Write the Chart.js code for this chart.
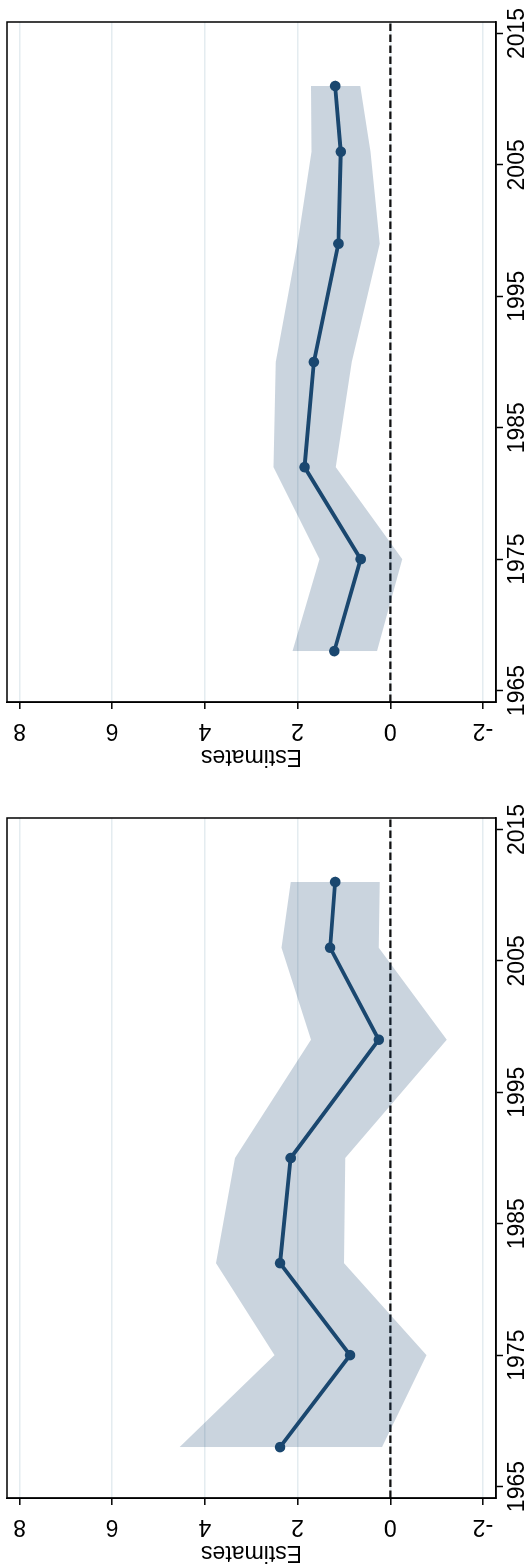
<!DOCTYPE html>
<html>
<head>
<meta charset="utf-8">
<script src="https://cdn.jsdelivr.net/npm/chart.js@4.4.0/dist/chart.umd.min.js"></script>
<style>
  html, body { margin: 0; padding: 0; background: #fff; overflow: hidden; }
  body { width: 532px; height: 1564px; position: relative; }
  /* the figure is laid out landscape and turned a quarter turn to the left */
  #sheet { position: absolute; left: 0; top: 0; width: 1564px; height: 532px;
           transform-origin: 0 0; transform: translate(0, 1564px) rotate(-90deg); }
  #sheet canvas { position: absolute; top: 0; }
  #left { left: 0; }
  #right { left: 796px; }
</style>
</head>
<body>
<div id="sheet">
  <canvas id="left" width="768" height="532"></canvas>
  <canvas id="right" width="768" height="532"></canvas>
</div>
<script>
const years = [1968, 1975, 1982, 1990, 1999, 2006, 2011];
const yearTicks = [1965, 1975, 1985, 1995, 2005, 2015];
const estimateTicks = [-2, 0, 2, 4, 6, 8];

// left panel
const leftEst   = [2.38, 0.87, 2.38, 2.15, 0.25, 1.30, 1.19];
const leftUpper = [4.55, 2.50, 3.76, 3.35, 1.71, 2.35, 2.15];
const leftLower = [0.18, -0.78, 1.00, 0.97, -1.22, 0.25, 0.23];

// right panel
const rightEst   = [1.21, 0.64, 1.85, 1.65, 1.12, 1.07, 1.19];
const rightUpper = [2.11, 1.53, 2.52, 2.47, 2.00, 1.70, 1.71];
const rightLower = [0.29, -0.26, 1.18, 0.83, 0.23, 0.43, 0.65];

const refLine = 0;
const yearMin = 1964.13, yearMax = 2015.87;
const estMin = -2.28, estMax = 8.27;

const navy = '#1a476f';
const bandColor = 'rgba(26, 71, 111, 0.23)';

Chart.defaults.font.family = "'Liberation Sans', Arial, Helvetica, sans-serif";
Chart.defaults.color = '#000';

const points = vals => years.map((yr, i) => ({ x: yr, y: vals[i] }));

// box round the plot region
const plotFrame = {
    id: 'plotFrame',
    afterDraw(chart) {
        const { ctx, chartArea: a } = chart;
        ctx.save();
        ctx.strokeStyle = '#000';
        ctx.lineWidth = 1.5;
        ctx.strokeRect(a.left, a.top, a.right - a.left, a.bottom - a.top);
        ctx.restore();
    }
};

function makeChart(id, est, upper, lower) {
    return new Chart(document.getElementById(id), {
        type: 'line',
        data: {
            datasets: [
                {
                    data: points(est),
                    borderColor: navy,
                    borderWidth: 3.8,
                    pointRadius: 5.3,
                    pointBackgroundColor: navy,
                    pointBorderWidth: 0,
                    fill: false
                },
                {
                    data: points(upper),
                    borderColor: 'rgba(0,0,0,0)',
                    borderWidth: 0,
                    pointRadius: 0,
                    backgroundColor: bandColor,
                    fill: '+1'
                },
                {
                    data: points(lower),
                    borderColor: 'rgba(0,0,0,0)',
                    borderWidth: 0,
                    pointRadius: 0,
                    fill: false
                },
                {
                    data: [{ x: yearMin, y: refLine }, { x: yearMax, y: refLine }],
                    borderColor: '#111',
                    borderWidth: 2.3,
                    borderDash: [7.5, 3.5],
                    pointRadius: 0,
                    fill: false
                }
            ]
        },
        options: {
            responsive: false,
            animation: false,
            layout: { padding: { top: 7, right: 22, bottom: 0, left: 0 } },
            plugins: {
                legend: { display: false },
                tooltip: { enabled: false }
            },
            scales: {
                x: {
                    type: 'linear',
                    min: yearMin,
                    max: yearMax,
                    afterBuildTicks: s => { s.ticks = yearTicks.map(v => ({ value: v })); },
                    afterFit: s => { s.height = 36; s.paddingLeft = 0; s.paddingRight = 0; },
                    grid: { drawOnChartArea: false, drawTicks: true, tickLength: 7, tickColor: '#000', tickWidth: 1.5 },
                    border: { display: true, color: '#000', width: 1.5 },
                    ticks: {
                        font: { size: 23 },
                        color: '#000',
                        padding: 1,
                        maxRotation: 0,
                        autoSkip: false,
                        callback: v => String(v)
                    }
                },
                y: {
                    type: 'linear',
                    min: estMin,
                    max: estMax,
                    afterBuildTicks: s => { s.ticks = estimateTicks.map(v => ({ value: v })); },
                    afterFit: s => { s.width = 66; s.paddingTop = 0; s.paddingBottom = 0; },
                    grid: { color: '#e4ecf0', lineWidth: 1.6, drawTicks: true, tickLength: 7, tickColor: '#000', tickWidth: 1.5 },
                    border: { display: true, color: '#000', width: 1.5 },
                    ticks: {
                        font: { size: 23 },
                        color: '#000',
                        minRotation: 90,
                        maxRotation: 90,
                        crossAlign: 'center',
                        padding: 11,
                        autoSkip: false,
                        callback: v => String(v)
                    },
                    title: {
                        display: true,
                        text: 'Estimates',
                        font: { size: 23, lineHeight: 1 },
                        padding: 0,
                        color: '#000'
                    }
                }
            }
        },
        plugins: [plotFrame]
    });
}

makeChart('left', leftEst, leftUpper, leftLower);
makeChart('right', rightEst, rightUpper, rightLower);
</script>
</body>
</html>
